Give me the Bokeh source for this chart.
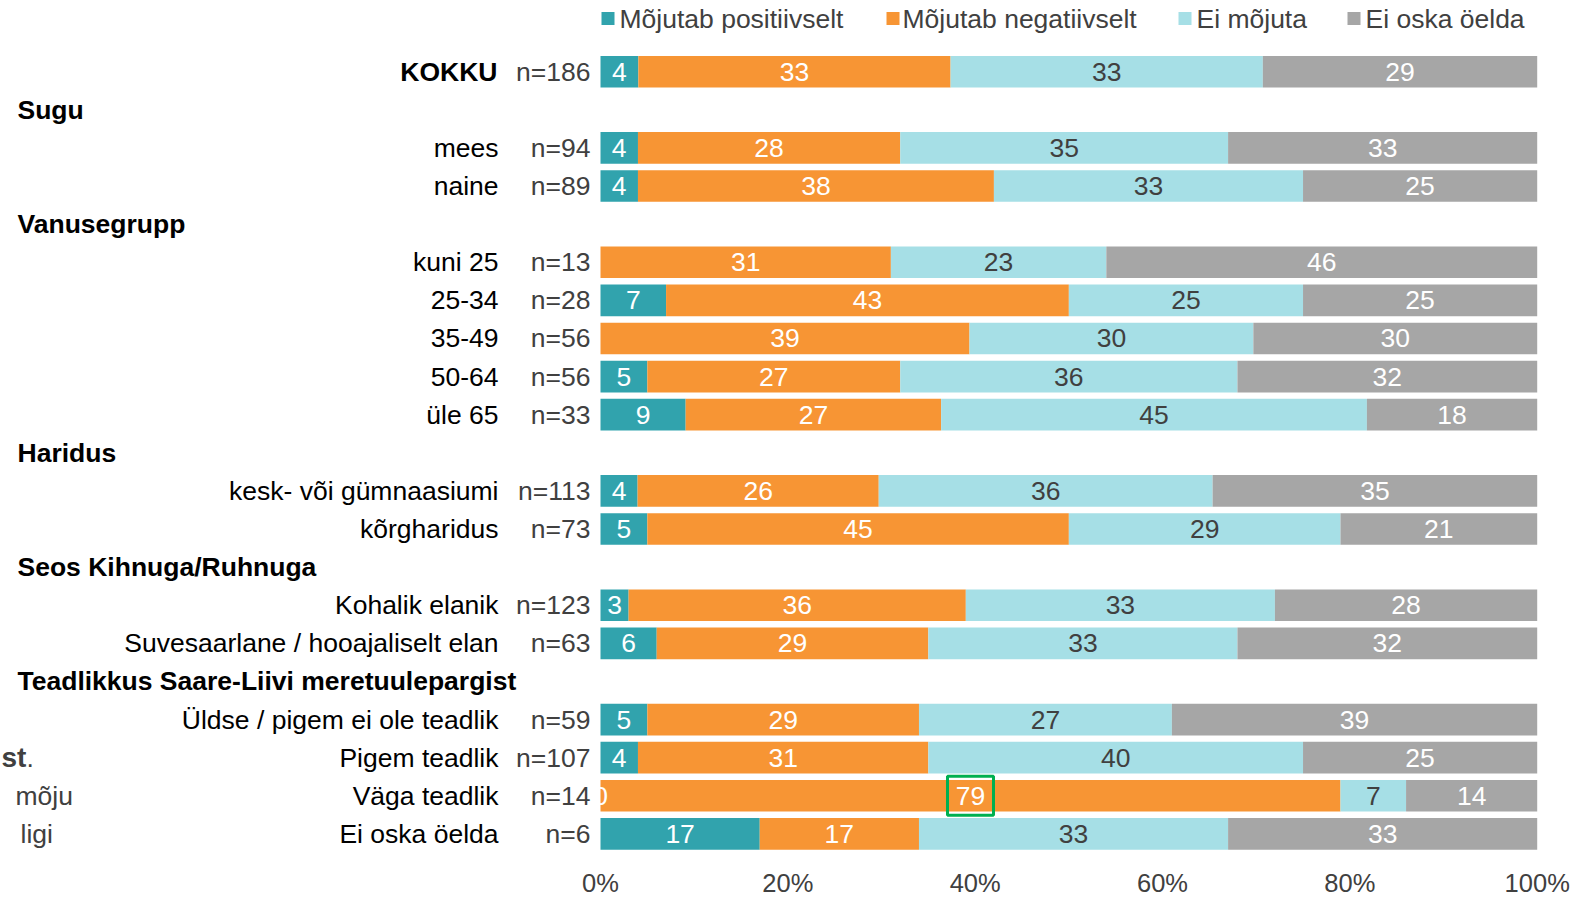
from bokeh.plotting import figure
from bokeh.models import ColumnDataSource, Range1d
from bokeh.core.properties import value
from bokeh.embed import file_html
from bokeh.resources import INLINE

# ---------------- data ----------------
series = ["Mõjutab positiivselt", "Mõjutab negatiivselt", "Ei mõjuta", "Ei oska öelda"]
colors = ["#31a3ad", "#f79534", "#a6dfe6", "#a6a6a6"]
label_colors = ["white", "white", "#404040", "white"]

row_labels = ["KOKKU", "mees", "naine", "kuni 25", "25-34", "35-49", "50-64", "üle 65",
              "kesk- või gümnaasiumi", "kõrgharidus", "Kohalik elanik",
              "Suvesaarlane / hooajaliselt elan", "Üldse / pigem ei ole teadlik",
              "Pigem teadlik", "Väga teadlik", "Ei oska öelda"]
row_n = ["n=186", "n=94", "n=89", "n=13", "n=28", "n=56", "n=56", "n=33",
         "n=113", "n=73", "n=123", "n=63", "n=59", "n=107", "n=14", "n=6"]
row_slots = [0, 2, 3, 5, 6, 7, 8, 9, 11, 12, 14, 15, 17, 18, 19, 20]

positive = [4, 4, 4, 0, 7, 0, 5, 9, 4, 5, 3, 6, 5, 4, 0, 17]
negative = [33, 28, 38, 31, 43, 39, 27, 27, 26, 45, 36, 29, 29, 31, 79, 17]
no_effect = [33, 35, 33, 23, 25, 30, 36, 45, 36, 29, 33, 33, 27, 40, 7, 33]
dont_know = [29, 33, 25, 46, 25, 30, 32, 18, 35, 21, 28, 32, 39, 25, 14, 33]

headers = ["Sugu", "Vanusegrupp", "Haridus", "Seos Kihnuga/Ruhnuga",
           "Teadlikkus Saare-Liivi meretuulepargist"]
header_slots = [1, 4, 10, 13, 16]

x_ticks = [0, 20, 40, 60, 80, 100]
x_tick_labels = ["0%", "20%", "40%", "60%", "80%", "100%"]

zero_label_rows = ["Väga teadlik"]
highlight = ("Väga teadlik", 1)
bold_rows = ["KOKKU"]

stray_slots = [18, 19, 20]

# ---------------- layout ----------------
W, H = 1593, 897
X0, XS = 600.0, 9.367      # px of 0 %, px per %
Y0, YS = 71.2, 38.11       # px of slot 0, px per slot

def xd(px):
    return (px - X0) / XS

def yd(py):
    return (py - Y0) / YS

FONT = value("Liberation Sans")
FS = "26.5px"

p = figure(width=W, height=H, output_backend="svg", toolbar_location=None,
           x_range=Range1d(xd(0), xd(W)), y_range=Range1d(yd(H), yd(0)),
           min_border=0, background_fill_color="white", border_fill_color="white")
p.outline_line_color = None
p.xaxis.visible = False
p.yaxis.visible = False
p.xgrid.visible = False
p.ygrid.visible = False

data = [positive, negative, no_effect, dont_know]
nrows = len(row_labels)
totals = [sum(v[i] for v in data) for i in range(nrows)]
left = [0.0] * nrows
bounds = []
for k, vals in enumerate(data):
    widths = [vals[i] * 100.0 / totals[i] for i in range(nrows)]
    right = [left[i] + widths[i] for i in range(nrows)]
    src = ColumnDataSource(dict(y=row_slots, left=left, right=right))
    p.hbar(y="y", left="left", right="right", height=0.83, source=src,
           fill_color=colors[k], line_color=None)
    bounds.append((left, right))
    left = right

# segment labels (drawn after all bars)
for k, vals in enumerate(data):
    l, r = bounds[k]
    lx, ly, lt = [], [], []
    for i in range(nrows):
        if vals[i] > 0 or (k == 0 and row_labels[i] in zero_label_rows):
            lx.append((l[i] + r[i]) / 2)
            ly.append(row_slots[i])
            lt.append(str(vals[i]))
    p.text(x=lx, y=ly, text=lt, text_align="center", text_baseline="middle",
           text_font=FONT, text_font_size=FS, text_color=label_colors[k])

# highlight box around one label
hk = highlight[1]
hi = row_labels.index(highlight[0])
p.rect(x=[(bounds[hk][0][hi] + bounds[hk][1][hi]) / 2], y=[row_slots[hi]], width=46,
       height=39, width_units="screen", height_units="screen", fill_color=None,
       line_color="#00b050", line_width=3)

# category labels
norm_idx = [i for i in range(nrows) if row_labels[i] not in bold_rows]
bold_idx = [i for i in range(nrows) if row_labels[i] in bold_rows]
p.text(x=[xd(498)] * len(norm_idx), y=[row_slots[i] for i in norm_idx],
       text=[row_labels[i] for i in norm_idx],
       text_align="right", text_baseline="middle", text_font=FONT, text_font_size=FS,
       text_color="#000000")
p.text(x=[xd(497)] * len(bold_idx), y=[row_slots[i] for i in bold_idx],
       text=[row_labels[i] for i in bold_idx], text_align="right",
       text_baseline="middle", text_font=FONT, text_font_size=FS,
       text_font_style="bold", text_color="#000000")
p.text(x=[xd(590)] * nrows, y=row_slots, text=row_n,
       text_align="right", text_baseline="middle", text_font=FONT, text_font_size=FS,
       text_color="#404040")

# headers
p.text(x=[xd(17)] * len(headers), y=header_slots, text=headers,
       text_align="left", text_baseline="middle", text_font=FONT, text_font_size=FS,
       text_font_style="bold", text_color="#000000")

# x tick labels
p.text(x=x_ticks, y=[yd(896)] * len(x_ticks), text=x_tick_labels,
       text_align="center", text_baseline="bottom", text_font=FONT,
       text_font_size="25.5px", text_color="#404040")

# legend
leg_sq = [601, 886, 1178, 1347]
leg_tx = [619, 902, 1196, 1365]
p.rect(x=[xd(s + 6.5) for s in leg_sq], y=[yd(18)] * 4, width=13, height=13,
       width_units="screen", height_units="screen", fill_color=colors, line_color=None)
p.text(x=[xd(t) for t in leg_tx], y=[yd(18)] * 4, text=series,
       text_align="left", text_baseline="middle", text_font=FONT, text_font_size=FS,
       text_color="#404040")

# stray text fragments at the left edge
p.text(x=[xd(1)], y=[stray_slots[0]], text=["st"], text_align="left",
       text_baseline="middle", text_font=FONT, text_font_size="28px",
       text_font_style="bold", text_color="#404040")
p.text(x=[xd(26)], y=[stray_slots[0]], text=["."], text_align="left",
       text_baseline="middle", text_font=FONT, text_font_size=FS, text_color="#404040")
p.text(x=[xd(15), xd(20)], y=stray_slots[1:], text=["mõju", "ligi"], text_align="left",
       text_baseline="middle", text_font=FONT, text_font_size=FS, text_color="#404040")

open("out.html", "w").write(file_html(p, INLINE))
